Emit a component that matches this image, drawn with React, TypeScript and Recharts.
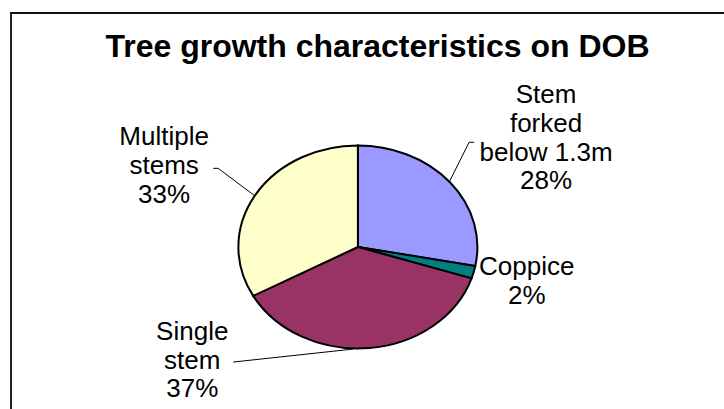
import { PieChart, Pie, Cell } from 'recharts';

const categories = ['Stem forked below 1.3m', 'Coppice', 'Single stem', 'Multiple stems'];
const shares = [28, 2, 37, 33];
const labelLines = [['Stem', 'forked', 'below 1.3m'], ['Coppice'], ['Single', 'stem'], ['Multiple', 'stems']];
const colors = ['#9999FF', '#008080', '#993366', '#FFFFCC'];

const data = categories.map((name, i) => ({ name, value: shares[i] }));

// pie is drawn as a circle and stretched sideways to get the excel ellipse
const CX = 352;
const CY = 242;
const RY = 101.5;
const RX = 119.5;
const SX = RX / RY;
const FONT = '"Liberation Sans", Arial, sans-serif';

// label block offsets from the slice edge point, excel style
const labelLayout = [
  { dx: 97, dy: -79, leader: [[0, 0], [20, -40], [25, -40]] },
  { dx: 54, dy: 3, leader: [] },
  { dx: -176, dy: -8, leader: [[-15, 1], [-135, 14]] },
  { dx: -90, dy: -50, leader: [[0, 0], [-36, -27], [-41, -27]] },
];

function renderLabel(props: any) {
  const { cx, cy, midAngle, outerRadius, index, percent } = props;
  const rad = (-midAngle * Math.PI) / 180;
  const ex = cx + outerRadius * SX * Math.cos(rad);
  const ey = cy + outerRadius * Math.sin(rad);
  const lay = labelLayout[index];
  const lines = [...labelLines[index], `${Math.round(percent * 100)}%`];
  const pts = lay.leader.map(([x, y]) => `${ex + x},${ey + y}`).join(' ');
  return (
    <g key={`lbl-${index}`}>
      {lay.leader.length > 0 && <polyline points={pts} fill="none" stroke="#000" strokeWidth={1} />}
      <text x={ex + lay.dx} y={ey + lay.dy} textAnchor="middle" fontFamily={FONT} fontSize={26} fill="#000">
        {lines.map((t, i) => (
          <tspan key={i} x={ex + lay.dx} dy={i === 0 ? 0 : 28.7}>{t}</tspan>
        ))}
      </text>
    </g>
  );
}

export default function App() {
  return (
    <div style={{ position: 'absolute', left: 0, top: 0, width: 724, height: 409, background: '#fff', overflow: 'hidden' }}>
      <style>{`.recharts-pie-sector path { transform-origin: ${CX}px ${CY}px; transform: scaleX(${SX}); vector-effect: non-scaling-stroke; }`}</style>
      <div style={{ position: 'absolute', left: 10, top: 12, width: 800, height: 500, borderTop: '2px solid #111', borderLeft: '2px solid #222' }} />
      <div style={{ position: 'absolute', left: 0, top: 30, width: 755, textAlign: 'center', fontFamily: FONT, fontWeight: 'bold', fontSize: 32, lineHeight: '32px', whiteSpace: 'nowrap', color: '#000' }}>
        Tree growth characteristics on DOB
      </div>
      <div style={{ position: 'absolute', left: 0, top: 0 }}>
        <PieChart width={724} height={409}>
          <Pie
            data={data}
            dataKey="value"
            nameKey="name"
            cx={CX}
            cy={CY}
            outerRadius={RY}
            startAngle={90}
            endAngle={-270}
            stroke="#000"
            strokeWidth={2}
            label={renderLabel}
            labelLine={false}
            isAnimationActive={false}
          >
            {data.map((d, i) => (
              <Cell key={d.name} fill={colors[i]} />
            ))}
          </Pie>
        </PieChart>
      </div>
    </div>
  );
}
